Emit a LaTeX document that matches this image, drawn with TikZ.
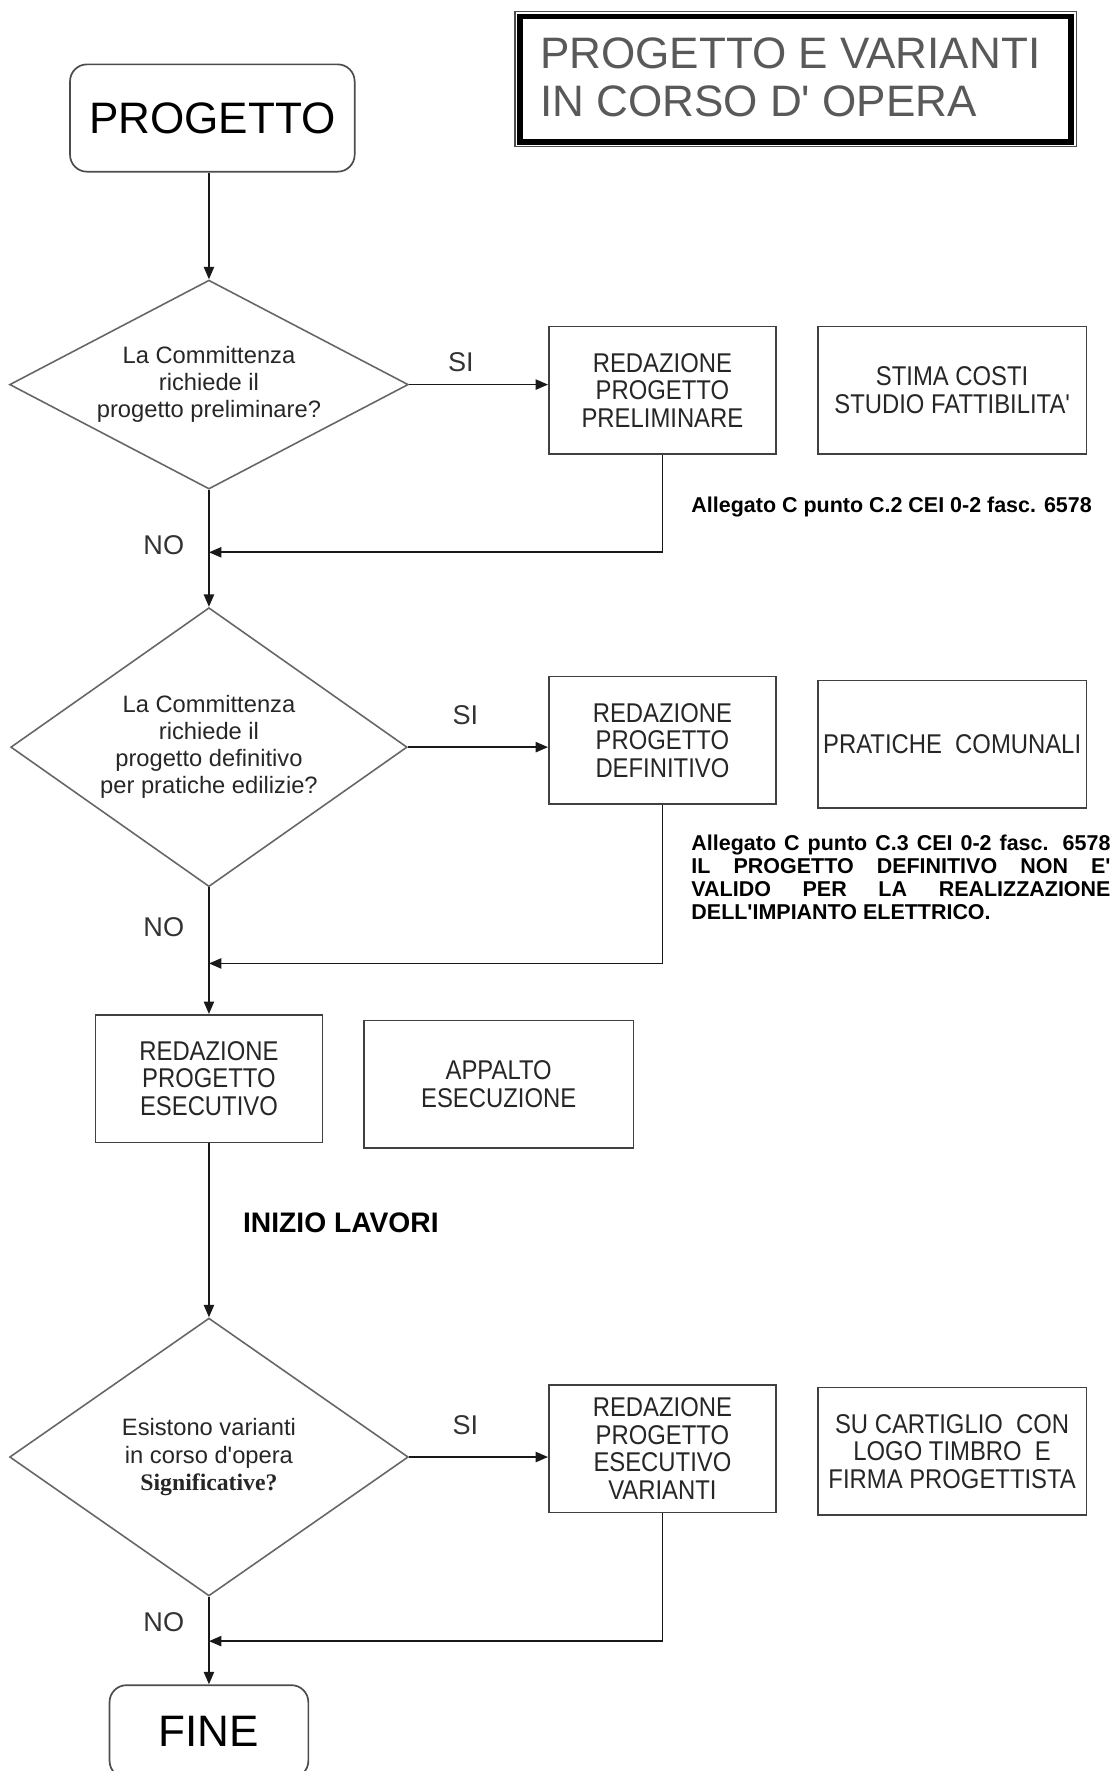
\documentclass[tikz,border=0pt]{standalone}
\usepackage{fontspec}
\setmainfont{Liberation Sans}[Ligatures=TeXOff]
\newfontfamily\boxfont{Liberation Sans}[FakeStretch=0.88,Ligatures=TeXOff]
\newfontfamily\serifbold{Liberation Serif}[Ligatures=TeXOff]
\usetikzlibrary{shapes.geometric,arrows.meta}

\begin{document}
\begin{tikzpicture}[x=1pt,y=-1pt,
  every node/.style={inner sep=0pt},
  conn/.style={line width=1.6pt,draw=black!90},
  arr/.style={conn,-{Triangle[length=11pt,width=9pt]}},
  procbox/.style={draw=black!75,line width=1.5pt,minimum width=201,minimum height=113,
    align=center,font=\boxfont\fontsize{24}{24.5}\selectfont,text=black!85},
  sidebox/.style={procbox,minimum width=238},
  termbox/.style={draw=black!70,line width=1.5pt,rounded corners=15pt,
    font=\fontsize{39}{39}\selectfont},
  decision/.style={diamond,draw=black!60,line width=1.4pt},
  dectext/.style={align=center,font=\fontsize{21}{24}\selectfont,text=black!85},
  yesno/.style={font=\fontsize{24}{24}\selectfont,text=black!80},
  notetext/.style={align=left,font=\bfseries\fontsize{19}{20.3}\selectfont}]

\useasboundingbox (0,0) rectangle (987,1568);

\node[draw=black!70,line width=1pt,minimum width=497,minimum height=120] (titlebox) at (704.5,70) {};
\draw[line width=5pt] ([shift={(5,5)}]titlebox.north west) rectangle ([shift={(-5,-5)}]titlebox.south east);
\node[anchor=west,align=left,text=black!65,font=\fontsize{39}{43}\selectfont] (title) at (478,68.5)
  {PROGETTO E VARIANTI\\IN CORSO D' OPERA};

\node[termbox,minimum width=252,minimum height=95] (progetto) at (188,104.5) {PROGETTO};

\node[decision,minimum width=353,minimum height=185] (d1) at (185,340.5) {};
\node[dectext] (d1t) at (d1) {La Committenza\\richiede il\\progetto preliminare?};
\node[procbox] (rpp) at (586.5,345.5) {REDAZIONE\\PROGETTO\\PRELIMINARE};
\node[sidebox] (stima) at (843,345.5) {STIMA COSTI\\STUDIO FATTIBILITA'};
\node[notetext,anchor=west] (note1) at (612,449) {Allegato C punto C.2 CEI 0-2 fasc. 6578};
\node[yesno] (si1) at (408,321) {SI};
\node[yesno] (no1) at (145,483) {NO};
\coordinate (j1) at (185,489);

\node[decision,minimum width=351,minimum height=247] (d2) at (185,661.5) {};
\node[dectext] (d2t) at (d2) {La Committenza\\richiede il\\progetto definitivo\\per pratiche edilizie?};
\node[procbox] (rpd) at (586.5,655.5) {REDAZIONE\\PROGETTO\\DEFINITIVO};
\node[sidebox] (pratiche) at (843,659) {PRATICHE\ \ COMUNALI};
\node[notetext,anchor=north west] (note2) at (612,739)
  {\makebox[371pt][s]{Allegato C punto C.3 CEI 0-2 fasc. 6578}\\
   \makebox[371pt][s]{IL PROGETTO DEFINITIVO NON E'}\\
   \makebox[371pt][s]{VALIDO PER LA REALIZZAZIONE}\\
   DELL'IMPIANTO ELETTRICO.};
\node[yesno] (si2) at (412,633) {SI};
\node[yesno] (no2) at (145,821) {NO};
\coordinate (j2) at (185,853);

\node[procbox] (rpe) at (185,955) {REDAZIONE\\PROGETTO\\ESECUTIVO};
\node[sidebox,minimum width=239] (appalto) at (441.5,960) {APPALTO\\ESECUZIONE};
\node[anchor=west,font=\bfseries\fontsize{25}{25}\selectfont] (inizio) at (215,1083) {INIZIO LAVORI};

\node[decision,minimum width=353,minimum height=246] (d3) at (185,1290) {};
\node[dectext] (d3t) at (d3) {Esistono varianti\\in corso d'opera\\{\serifbold\bfseries Significative?}};
\node[procbox] (rpev) at (586.5,1282.5) {REDAZIONE\\PROGETTO\\ESECUTIVO\\VARIANTI};
\node[sidebox] (cartiglio) at (843,1285) {SU CARTIGLIO\ \ CON\\LOGO TIMBRO\ \ E\\FIRMA PROGETTISTA};
\node[yesno] (si3) at (412,1262) {SI};
\node[yesno] (no3) at (145,1436) {NO};
\coordinate (j3) at (185,1453);

\node[termbox,minimum width=176,minimum height=82] (fine) at (185,1533) {FINE};

\draw[arr] (progetto.south -| d1.north) -- (d1.north);
\draw[arr] (d1.east) -- (d1.east -| rpp.west);
\draw[arr] (rpp.south) |- (j1);
\draw[arr] (d1.south) -- (d2.north);
\draw[arr] (d2.east) -- (d2.east -| rpd.west);
\draw[arr] (rpd.south) |- (j2);
\draw[arr] (d2.south) -- (rpe.north);
\draw[arr] (rpe.south) -- (d3.north);
\draw[arr] (d3.east) -- (d3.east -| rpev.west);
\draw[arr] (rpev.south) |- (j3);
\draw[arr] (d3.south) -- (fine.north);
\end{tikzpicture}
\end{document}
